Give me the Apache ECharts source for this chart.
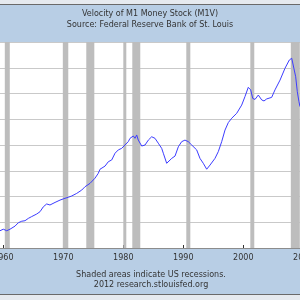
<!DOCTYPE html>
<html>
<head>
<meta charset="utf-8">
<script src="https://cdn.jsdelivr.net/npm/echarts@6/dist/echarts.min.js"></script>
<style>
html, body { margin: 0; padding: 0; background: #fff; }
#chart { width: 300px; height: 300px; }
</style>
</head>
<body>
<div id="chart"></div>
<script>
// M1 velocity (year as decimal)
var years = [1959.45, 1960.0, 1960.57, 1961.12, 1961.95, 1962.5, 1963.07, 1963.62, 1964.17, 1964.73,
    1965.0, 1965.57, 1966.12, 1966.67, 1967.23, 1967.78, 1968.62, 1969.45, 1970.28, 1970.83,
    1971.4, 1972.23, 1973.07, 1973.62, 1974.45, 1975.28, 1975.83, 1976.12, 1976.95, 1977.5,
    1978.07, 1978.62, 1979.17, 1979.73, 1980.28, 1980.83, 1981.12, 1981.67, 1981.95, 1982.23,
    1982.5, 1983.07, 1983.62, 1984.17, 1984.73, 1985.28, 1985.83, 1986.4, 1986.67, 1987.23,
    1988.07, 1988.62, 1989.17, 1989.73, 1990.28, 1990.83, 1991.4, 1992.23, 1992.78, 1993.33,
    1993.9, 1994.45, 1995.28, 1995.83, 1996.4, 1996.95, 1997.5, 1998.07, 1998.9, 1999.73,
    2000.28, 2000.83, 2001.23, 2001.57, 2001.95, 2002.5, 2003.07, 2003.45, 2003.9, 2004.73,
    2005.28, 2006.12, 2006.95, 2007.67, 2008.07, 2008.33, 2008.73, 2009.0, 2009.28, 2009.45];
var m1v = [3.67, 3.73, 3.67, 3.73, 3.85, 3.98, 4.04, 4.06, 4.15, 4.22,
    4.19, 4.32, 4.41, 4.60, 4.71, 4.67, 4.77, 4.86, 4.93, 4.97,
    5.02, 5.12, 5.25, 5.38, 5.51, 5.71, 5.90, 6.06, 6.18, 6.35,
    6.42, 6.68, 6.81, 6.87, 7.00, 7.13, 7.26, 7.35, 7.26, 7.39,
    7.19, 6.96, 7.00, 7.19, 7.32, 7.26, 7.07, 6.87, 6.68, 6.29,
    6.48, 6.57, 6.93, 7.13, 7.19, 7.13, 7.00, 6.81, 6.48, 6.29,
    6.06, 6.22, 6.48, 6.74, 7.13, 7.58, 7.87, 8.04, 8.23, 8.55,
    8.88, 9.24, 9.14, 8.81, 8.77, 8.94, 8.75, 8.71, 8.79, 8.85,
    9.14, 9.52, 9.98, 10.30, 10.37, 10.30, 9.65, 9.07, 8.68, 8.49];

// NBER recessions
var recessionStart = [1960.25, 1969.92, 1973.83, 1980.0, 1981.5, 1990.5, 2001.17, 2007.92];
var recessionEnd = [1961.08, 1970.83, 1975.17, 1980.5, 1982.83, 1991.17, 2001.83, 2009.42];

var titleLines = ['Velocity of M1 Money Stock (M1V)', 'Source: Federal Reserve Bank of St. Louis'];
var noteLines = ['Shaded areas indicate US recessions.', '2012 research.stlouisfed.org'];

var bandColor = '#b8cee5';
var textColor = '#333333';
var textFont = '8px "DejaVu Sans"';

var dom = document.getElementById('chart');
var myChart = echarts.init(dom);
var option = null;

var lineData = [];
for (var i = 0; i < years.length; i++) {
    lineData.push([years[i], m1v[i]]);
}
var areas = [];
for (var j = 0; j < recessionStart.length; j++) {
    areas.push([{xAxis: recessionStart[j]}, {xAxis: recessionEnd[j]}]);
}

option = {
    backgroundColor: '#ffffff',
    animation: false,
    grid: {
        // the picture is a crop of a wider chart: 6px per year, 1960 at x=3.3
        left: -56.7,
        right: -63.3,
        top: 42,
        bottom: 52,
        containLabel: false,
        outerBoundsMode: 'none'
    },
    xAxis: {
        type: 'value',
        min: 1950,
        max: 2020,
        interval: 10,
        axisLine: {lineStyle: {color: '#8c8c8c', width: 1}},
        axisTick: {inside: true, length: 3, lineStyle: {color: '#333'}},
        axisLabel: {
            color: textColor,
            fontFamily: 'DejaVu Sans',
            fontSize: 8,
            margin: 6,
            formatter: function (v) { return '' + v; }
        },
        splitLine: {show: false}
    },
    yAxis: {
        type: 'value',
        min: 3,
        max: 11,
        interval: 1,
        axisLine: {show: false},
        axisTick: {show: false},
        axisLabel: {show: false},
        splitLine: {lineStyle: {color: '#c9c9c9', width: 1}}
    },
    graphic: [
        {type: 'rect', z: -10, shape: {x: 0, y: 0, width: 300, height: 4}, style: {fill: '#e6eaef'}},
        {type: 'rect', z: -10, shape: {x: 0, y: 4, width: 300, height: 1}, style: {fill: '#6a6a6a'}},
        {type: 'rect', z: -10, shape: {x: 0, y: 5, width: 300, height: 37}, style: {fill: bandColor}},
        {type: 'rect', z: -10, shape: {x: 0, y: 248, width: 300, height: 46}, style: {fill: bandColor}},
        {type: 'rect', z: -10, shape: {x: 0, y: 294, width: 300, height: 1}, style: {fill: '#6a6a6a'}},
        {type: 'rect', z: -10, shape: {x: 0, y: 295, width: 300, height: 5}, style: {fill: '#e6eaef'}},
        {type: 'text', z: 10, x: 150, y: 14, style: {text: titleLines[0], fill: textColor, font: textFont, align: 'center', verticalAlign: 'middle'}},
        {type: 'text', z: 10, x: 150, y: 25, style: {text: titleLines[1], fill: textColor, font: textFont, align: 'center', verticalAlign: 'middle'}},
        {type: 'text', z: 10, x: 151, y: 275, style: {text: noteLines[0], fill: textColor, font: textFont, align: 'center', verticalAlign: 'middle'}},
        {type: 'text', z: 10, x: 151, y: 285, style: {text: noteLines[1], fill: textColor, font: textFont, align: 'center', verticalAlign: 'middle'}}
    ],
    series: [{
        name: 'M1V',
        type: 'line',
        data: lineData,
        showSymbol: false,
        symbol: 'none',
        lineStyle: {color: '#3c3cff', width: 1},
        markArea: {
            silent: true,
            itemStyle: {color: '#bdbdbd'},
            data: areas
        },
        z: 5
    }]
};

if (option && typeof option === "object") {
    myChart.setOption(option, true);
}
</script>
</body>
</html>
